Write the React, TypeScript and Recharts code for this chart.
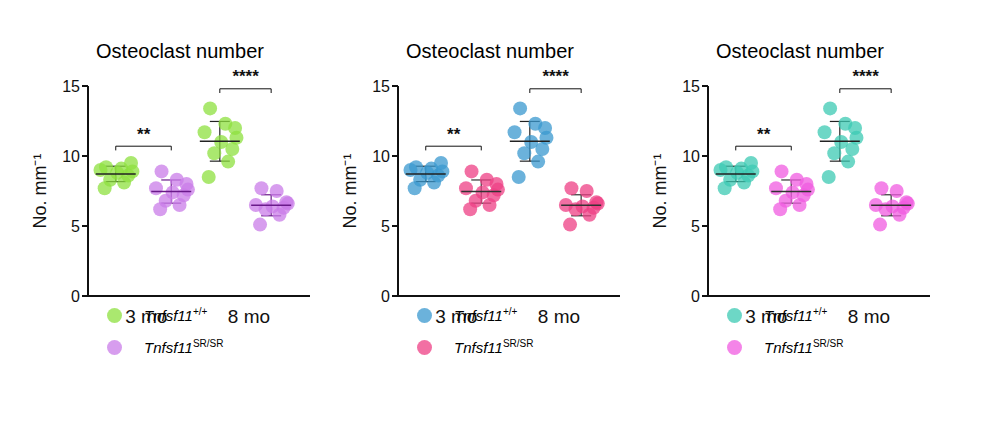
import React from "react"
import {
  ScatterChart, Scatter, XAxis, YAxis, ErrorBar, ReferenceLine, Label,
} from "recharts"

const categories = ["3 mo", "8 mo"]
const yTicks = [0, 5, 10, 15]
const wt3 = [9.2, 9.1, 9.5, 9.0, 8.8, 8.6, 8.3, 8.1, 7.7, 8.9]
const ko3 = [8.9, 8.3, 8.0, 7.7, 7.4, 7.2, 6.8, 6.5, 6.2, 7.6]
const wt8 = [13.4, 12.3, 12.0, 11.7, 11.0, 10.5, 10.2, 9.6, 8.5, 11.3]
const ko8 = [7.7, 7.5, 6.7, 6.5, 6.4, 6.3, 6.2, 5.8, 5.1, 6.6]
const jitter = [-0.35, 0.2, 0.55, -0.55, 0.05, 0.45, -0.2, 0.3, -0.4, 0.6]
const groupX = [1, 3, 4.75, 6.6]
const tickX = [2.1, 5.8]
const stars = ["**", "****"]

const panels = [
  { wt: "#8ee03f", ko: "#c97ce8", koMean: "#6a1a8a" },
  { wt: "#3a98cf", ko: "#ee3f84", koMean: "#333" },
  { wt: "#3cc9b3", ko: "#f05be0", koMean: "#333" },
]

const mean = (a: number[]) => a.reduce((s, v) => s + v, 0) / a.length
const sd = (a: number[]) => {
  const m = mean(a)
  return Math.sqrt(a.reduce((s, v) => s + (v - m) ** 2, 0) / (a.length - 1))
}
const pts = (a: number[], gx: number) => a.map((y, i) => ({ x: gx + jitter[i], y }))
const stat = (a: number[], gx: number) => [{ x: gx, y: mean(a), e: sd(a) }]

const MeanLine = (p: any) => (
  <line x1={p.cx - 20} x2={p.cx + 20} y1={p.cy} y2={p.cy} stroke={p.stroke} strokeWidth={1.5} />
)

function Panel({ c }: { c: typeof panels[0] }) {
  const groups = [wt3, ko3, wt8, ko8]
  const colors = [c.wt, c.ko, c.wt, c.ko]
  const means = ["#222", c.koMean, "#222", c.koMean]
  return (
    <div style={{ position: "relative", width: 310, height: 424 }}>
      <div style={{ position: "absolute", top: 40, left: 50, width: 260, textAlign: "center", fontSize: 20 }}>
        Osteoclast number
      </div>
      <ScatterChart width={310} height={330} margin={{ top: 86, right: 0, bottom: 4, left: 30 }}>
        <XAxis type="number" dataKey="x" domain={[0, 8]} ticks={tickX} tickFormatter={(v) => categories[tickX.indexOf(v)]}
          tick={{ fontSize: 19, fill: "#111" }} tickLine={false} stroke="#111" strokeWidth={2} tickMargin={8} />
        <YAxis type="number" dataKey="y" domain={[0, 15]} ticks={yTicks} width={58}
          tick={{ fontSize: 16, fill: "#111" }} stroke="#111" strokeWidth={2}>
          <Label angle={-90} position="insideLeft" offset={10} style={{ fontSize: 18, fill: "#111", textAnchor: "middle" }}
            value="No. mm⁻¹" />
        </YAxis>
        {groups.map((g, i) => (
          <Scatter key={"p" + i} data={pts(g, groupX[i])} fill={colors[i]} fillOpacity={0.75} isAnimationActive={false}
            shape={(p: any) => <circle cx={p.cx} cy={p.cy} r={7} fill={colors[i]} fillOpacity={0.75} />} />
        ))}
        {groups.map((g, i) => (
          <Scatter key={"m" + i} data={stat(g, groupX[i])} stroke={means[i]} isAnimationActive={false} shape={MeanLine}>
            <ErrorBar dataKey="e" direction="y" width={10} stroke={means[i]} strokeWidth={1.2} />
          </Scatter>
        ))}
        {[0, 1].map((k) => {
          const y = k === 0 ? 10.7 : 14.8
          const x1 = groupX[k * 2], x2 = groupX[k * 2 + 1]
          return (
            <React.Fragment key={"b" + k}>
              <ReferenceLine ifOverflow="visible" segment={[{ x: x1, y }, { x: x2, y }]} stroke="#111" />
              <ReferenceLine ifOverflow="visible" segment={[{ x: x1, y }, { x: x1, y: y - 0.3 }]} stroke="#111" />
              <ReferenceLine ifOverflow="visible" segment={[{ x: x2, y }, { x: x2, y: y - 0.3 }]} stroke="#111" />
              <ReferenceLine ifOverflow="visible" segment={[{ x: (x1 + x2) / 2, y: y + 0.9 }, { x: (x1 + x2) / 2 + 0.01, y: y + 0.9 }]} stroke="none">
                <Label value={stars[k]} position="center" style={{ fontSize: 17, fontWeight: "bold", fill: "#111" }} />
              </ReferenceLine>
            </React.Fragment>
          )
        })}
      </ScatterChart>
      {[
        { col: c.wt, sup: "+/+" },
        { col: c.ko, sup: "SR/SR" },
      ].map((l, i) => (
        <div key={i} style={{ position: "absolute", left: 107, top: 306 + i * 32, display: "flex", alignItems: "center", fontSize: 15 }}>
          <span style={{ width: 15, height: 15, borderRadius: 8, background: l.col, opacity: 0.75, marginRight: 22 }} />
          <span><i>Tnfsf11</i><sup style={{ fontSize: 10 }}>{l.sup}</sup></span>
        </div>
      ))}
    </div>
  )
}

export default function App() {
  return (
    <div style={{ margin: -8, width: 998, height: 424, background: "#fff", display: "flex", fontFamily: "Arial, 'Liberation Sans', sans-serif" }}>
      {panels.map((c, i) => <Panel key={i} c={c} />)}
    </div>
  )
}
